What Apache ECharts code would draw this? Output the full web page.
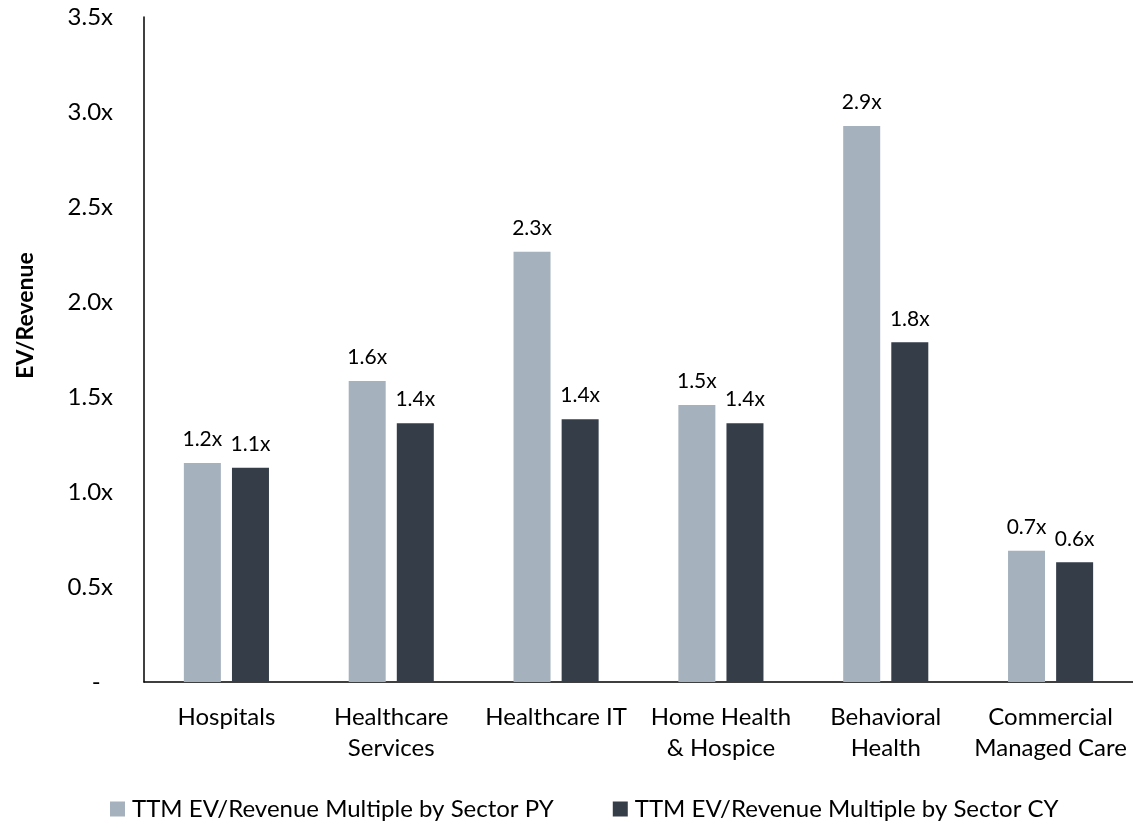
<!DOCTYPE html>
<html>
<head>
<meta charset="utf-8">
<script src="https://cdn.jsdelivr.net/npm/echarts@6/dist/echarts.min.js"></script>
<style>
  html, body { margin: 0; padding: 0; background: #fff; }
  #chart { width: 1133px; height: 821px; }
</style>
</head>
<body>
<div id="chart"></div>
<script>
// sectors on the x axis
const sectors = ['Hospitals', 'Healthcare\nServices', 'Healthcare IT', 'Home Health\n& Hospice', 'Behavioral\nHealth', 'Commercial\nManaged Care']
// TTM EV/Revenue multiples
const multiplePY = [1.153, 1.584, 2.265, 1.458, 2.926, 0.691]
const multipleCY = [1.128, 1.362, 1.383, 1.362, 1.788, 0.630]
const seriesNames = ['TTM EV/Revenue Multiple by Sector PY', 'TTM EV/Revenue Multiple by Sector CY']

const FONT = 'Lato'

const chart = echarts.init(document.getElementById('chart'))

const barLabel = {
  show: true,
  position: 'top',
  distance: 13,
  color: '#000',
  fontFamily: FONT,
  fontSize: 21,
  formatter: p => p.value.toFixed(1) + 'x'
}

chart.setOption({
  animation: false,
  textStyle: { fontFamily: FONT },
  grid: {
    left: 144,
    right: 0,
    top: 17,
    bottom: 139
  },
  legend: {
    top: 792,
    left: 105,
    itemWidth: 15,
    itemHeight: 15,
    itemGap: 59,
    icon: 'rect',
    textStyle: { fontFamily: FONT, fontSize: 24, color: '#000', padding: [0, 0, 0, 2] },
    data: seriesNames
  },
  xAxis: {
    type: 'category',
    data: sectors,
    axisLine: { lineStyle: { color: '#000', width: 1.5 } },
    axisTick: { show: false },
    axisLabel: {
      color: '#000',
      fontFamily: FONT,
      fontSize: 24,
      lineHeight: 31,
      margin: 20,
      interval: 0
    }
  },
  yAxis: {
    type: 'value',
    min: 0,
    max: 3.5,
    interval: 0.5,
    name: 'EV/Revenue',
    nameLocation: 'middle',
    nameGap: 107,
    nameTextStyle: {
      color: '#000',
      fontFamily: FONT,
      fontSize: 23,
      fontWeight: 'bold',
      padding: [0, 0, 0, 68]
    },
    axisLine: { show: true, lineStyle: { color: '#000', width: 1.5 } },
    axisTick: { show: false },
    splitLine: { show: false },
    axisLabel: {
      color: '#000',
      fontFamily: FONT,
      fontSize: 24,
      margin: 31,
      formatter: v => (v === 0 ? '-  ' : v.toFixed(1) + 'x')
    }
  },
  series: [
    {
      name: seriesNames[0],
      type: 'bar',
      data: multiplePY,
      barWidth: 37,
      barGap: '30%',
      itemStyle: { color: '#A5B1BD' },
      label: barLabel
    },
    {
      name: seriesNames[1],
      type: 'bar',
      data: multipleCY,
      barWidth: 37,
      itemStyle: { color: '#343D48' },
      label: barLabel
    }
  ]
})
</script>
</body>
</html>
